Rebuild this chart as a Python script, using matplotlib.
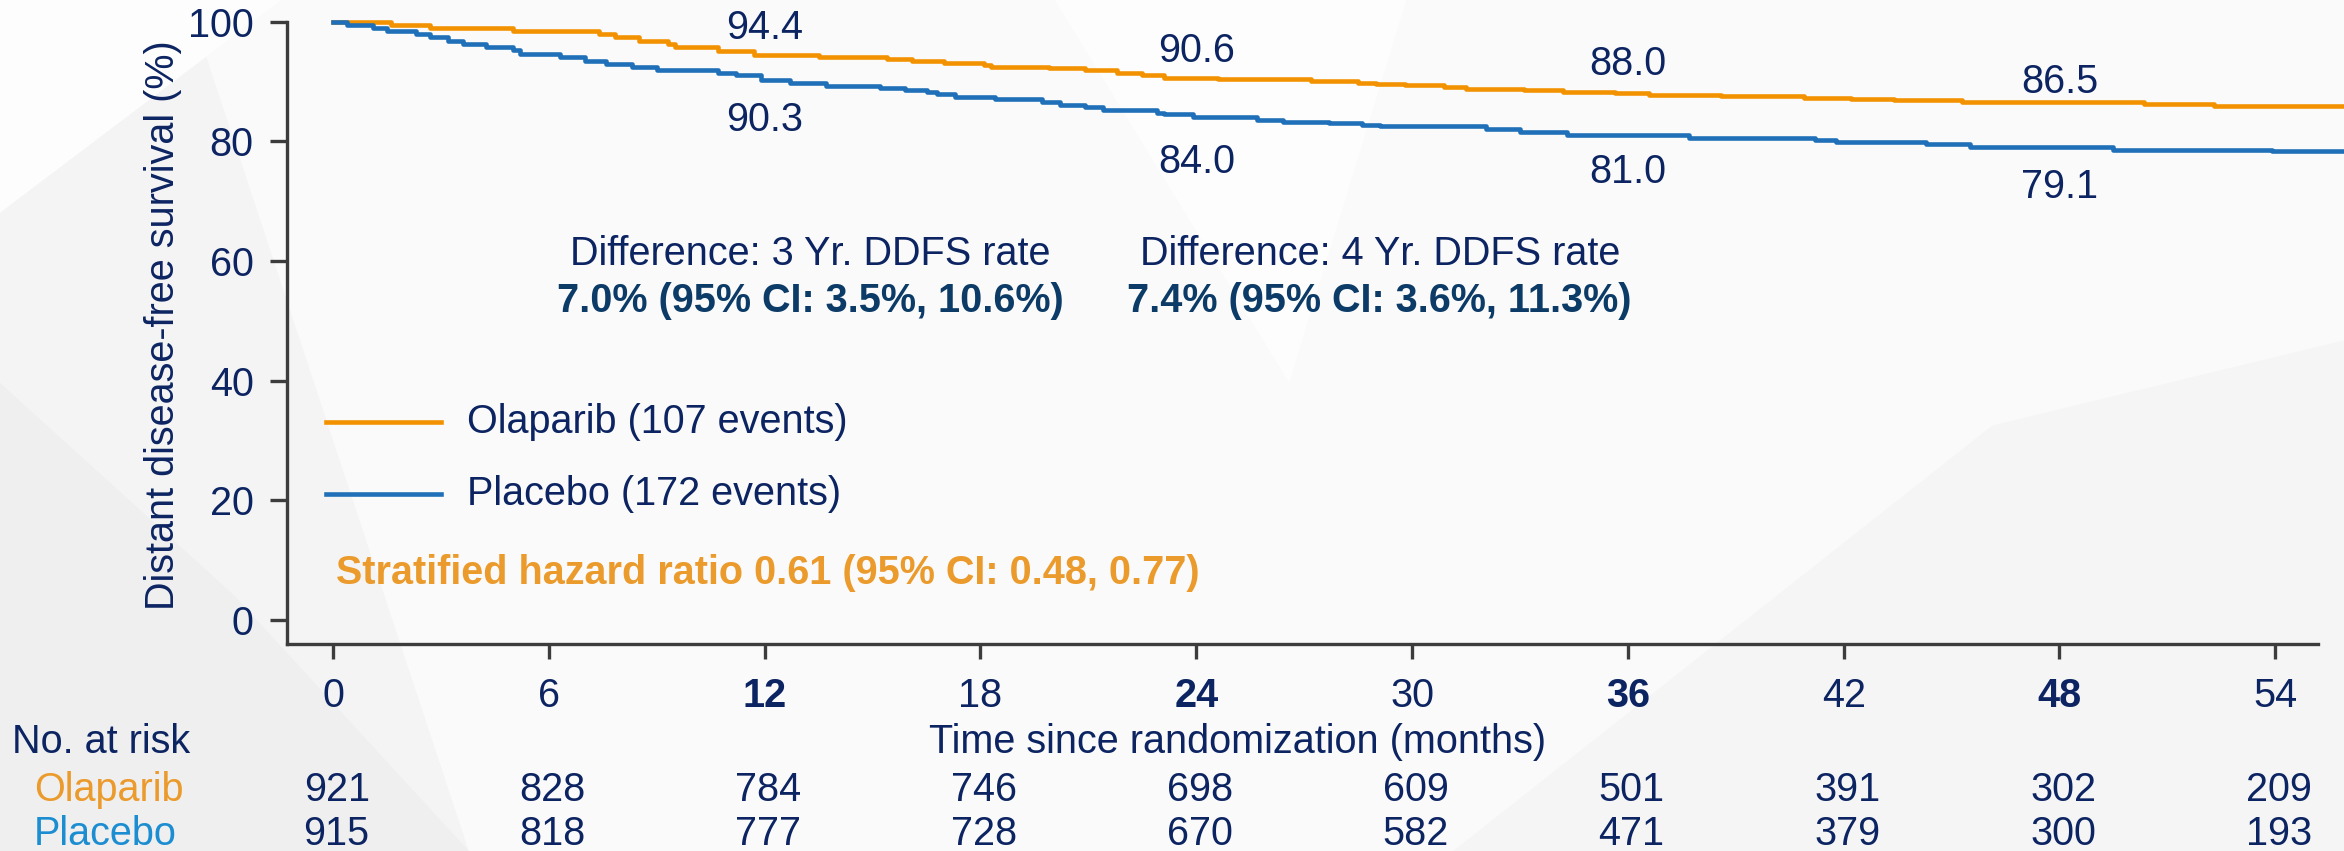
import matplotlib
matplotlib.use("Agg")
import matplotlib.pyplot as plt
from matplotlib.patches import Polygon
from matplotlib.transforms import blended_transform_factory

plt.rcParams["font.family"] = ["Liberation Sans", "DejaVu Sans"]

# Kaplan-Meier step knots (months, % free of distant disease)
olaparibTimes = [0, 1.6, 2.7, 5.0, 7.4, 7.85, 8.5, 9.3, 9.5, 10.7, 11.7, 13.5, 15.4, 16.1,
                 17.0, 18.1, 18.3, 19.9, 20.9, 21.8, 22.5, 23.1, 24.6, 27.2, 28.5, 29.0,
                 29.8, 30.9, 31.5, 33.1, 34.2, 35.65, 36.6, 38.6, 40.9, 42.2, 43.4, 45.3,
                 50.35, 52.3, 55.9]
olaparibSurv = [100, 99.5, 98.9, 98.5, 97.9, 97.4, 96.8, 96.3, 95.7, 95.1, 94.4, 94.1, 93.8,
                93.5, 93.1, 92.7, 92.5, 92.2, 91.9, 91.5, 91.1, 90.6, 90.4, 90.1, 89.8, 89.6,
                89.4, 89.1, 88.8, 88.6, 88.3, 88.0, 87.8, 87.6, 87.3, 87.1, 86.9, 86.5,
                86.2, 85.9, 85.9]

placeboTimes = [0, 0.4, 1.1, 1.5, 2.3, 2.7, 3.2, 3.6, 4.25, 5.0, 5.2, 6.3, 7.0, 7.6, 8.3,
                9.0, 10.7, 11.2, 11.9, 12.7, 13.7, 15.2, 15.9, 16.5, 16.8, 17.3, 18.4, 19.7,
                20.2, 20.9, 21.4, 22.9, 23.1, 23.9, 25.7, 26.4, 27.7, 28.6, 29.1, 32.05,
                33.0, 34.3, 37.7, 41.2, 41.8, 44.3, 45.5, 49.5, 53.9, 55.9]
placeboSurv = [100, 99.5, 98.9, 98.5, 97.9, 97.4, 96.8, 96.3, 95.7, 95.2, 94.6, 94.05, 93.5,
               92.9, 92.4, 92.0, 91.5, 91.1, 90.3, 89.7, 89.3, 88.9, 88.5, 88.2, 87.9, 87.45,
               87.0, 86.5, 86.1, 85.7, 85.2, 84.8, 84.5, 84.0, 83.6, 83.3, 83.0, 82.7, 82.5,
               82.0, 81.6, 81.0, 80.6, 80.2, 79.9, 79.5, 79.1, 78.6, 78.3, 78.3]

landmarkMonths = [12, 24, 36, 48]
olaparibLandmark = [94.4, 90.6, 88.0, 86.5]
placeboLandmark = [90.3, 84.0, 81.0, 79.1]

riskMonths = [0, 6, 12, 18, 24, 30, 36, 42, 48, 54]
olaparibAtRisk = [921, 828, 784, 746, 698, 609, 501, 391, 302, 209]
placeboAtRisk = [915, 818, 777, 728, 670, 582, 471, 379, 300, 193]

olaparibEvents = 107
placeboEvents = 172

NAVY = "#0c2461"
DARK_TEAL = "#0b3b66"
ORANGE = "#f39200"
BLUE = "#1f70b8"
HR_ORANGE = "#eb9a2c"
RISK_BLUE = "#1b8dd0"
AXIS_GREY = "#3c3c3c"
FS = 28.5

fig = plt.figure(figsize=(23.44, 8.51), dpi=100, facecolor="#f4f4f5")

# faint geometric backdrop
shapes = [
    ([(0.08, 1.0), (1.0, 1.0), (1.0, 0.35), (0.75, 0.0), (0.2, 0.0)], "#fafafa"),
    ([(0.0, 1.0), (0.12, 1.0), (0.0, 0.75)], "#fdfdfd"),
    ([(0.0, 0.0), (0.0, 0.55), (0.1, 0.3), (0.2, 0.0)], "#efeff0"),
    ([(0.62, 0.0), (0.85, 0.5), (1.0, 0.6), (1.0, 0.0)], "#f5f5f6"),
    ([(0.45, 1.0), (0.60, 1.0), (0.55, 0.55)], "#fdfdfd"),
]
for pts, col in shapes:
    fig.patches.append(Polygon(pts, closed=True, transform=fig.transFigure,
                               facecolor=col, edgecolor="none", zorder=-10))

ax = fig.add_axes([287 / 2344, (851 - 644) / 851, 1 - 287 / 2344, (644 - 21.7) / 851])
ax.set_facecolor("none")
ax.set_xlim(-1.28, 55.91)
ax.set_ylim(-4.06, 100)

ax.step(olaparibTimes, olaparibSurv, where="post", color=ORANGE, lw=3.3,
        clip_on=False, zorder=3)
ax.step(placeboTimes, placeboSurv, where="post", color=BLUE, lw=3.3,
        clip_on=False, zorder=3)

# landmark rates above / below the curves
olaparibLabelY = [99.0, 95.1, 92.9, 89.9]
placeboLabelY = [83.6, 76.6, 74.8, 72.3]
for m, v, y in zip(landmarkMonths, olaparibLandmark, olaparibLabelY):
    ax.text(m, y, "{:.1f}".format(v), ha="center", va="center", fontsize=FS, color=NAVY)
for m, v, y in zip(landmarkMonths, placeboLandmark, placeboLabelY):
    ax.text(m, y, "{:.1f}".format(v), ha="center", va="center", fontsize=FS, color=NAVY)

# differences in DDFS rate
ax.text(13.26, 61.2, "Difference: 3 Yr. DDFS rate", ha="center", va="center",
        fontsize=FS, color=NAVY)
ax.text(13.26, 53.3, "7.0% (95% CI: 3.5%, 10.6%)", ha="center", va="center",
        fontsize=FS, color=DARK_TEAL, fontweight="bold")
ax.text(29.1, 61.2, "Difference: 4 Yr. DDFS rate", ha="center", va="center",
        fontsize=FS, color=NAVY)
ax.text(29.1, 53.3, "7.4% (95% CI: 3.6%, 11.3%)", ha="center", va="center",
        fontsize=FS, color=DARK_TEAL, fontweight="bold")

# legend drawn by hand
ax.plot([-0.2, 3.0], [33.0, 33.0], color=ORANGE, lw=3.3)
ax.plot([-0.2, 3.0], [21.0, 21.0], color=BLUE, lw=3.3)
ax.text(3.72, 33.0, "Olaparib ({} events)".format(olaparibEvents), va="center",
        fontsize=FS, color=NAVY)
ax.text(3.72, 21.0, "Placebo ({} events)".format(placeboEvents), va="center",
        fontsize=FS, color=NAVY)

ax.text(0.08, 7.8, "Stratified hazard ratio 0.61 (95% CI: 0.48, 0.77)", va="center",
        fontsize=FS, color=HR_ORANGE, fontweight="bold")

# axes styling
for side in ["top", "right"]:
    ax.spines[side].set_visible(False)
for side in ["left", "bottom"]:
    ax.spines[side].set_color(AXIS_GREY)
    ax.spines[side].set_linewidth(2.4)
ax.spines["bottom"].set_bounds(-1.28, 55.2)

ax.set_yticks(range(0, 101, 20))
ax.set_xticks(riskMonths)
ax.tick_params(axis="y", length=12, width=2.4, color=AXIS_GREY, pad=12,
               labelsize=FS, labelcolor=NAVY)
ax.tick_params(axis="x", length=11, width=2.4, color=AXIS_GREY, pad=13,
               labelsize=FS, labelcolor=NAVY)
for lab in ax.get_xticklabels():
    if int(lab.get_text()) % 12 == 0 and lab.get_text() != "0":
        lab.set_fontweight("bold")

fig.text(163 / 2344, 1 - 325 / 851, "Distant disease-free survival (%)", rotation=90,
         ha="center", va="center", fontsize=FS, color=NAVY)
fig.text(1238 / 2344, 1 - 742 / 851, "Time since randomization (months)",
         ha="center", va="center", fontsize=FS, color=NAVY)

# number-at-risk table
fig.text(12 / 2344, 1 - 742 / 851, "No. at risk", ha="left", va="center",
         fontsize=FS, color=NAVY)
fig.text(34 / 2344, 1 - 790 / 851, "Olaparib", ha="left", va="center",
         fontsize=FS, color=HR_ORANGE)
fig.text(34 / 2344, 1 - 834 / 851, "Placebo", ha="left", va="center",
         fontsize=FS, color=RISK_BLUE)
rowTrans = blended_transform_factory(ax.transData, fig.transFigure)
for m, a, b in zip(riskMonths, olaparibAtRisk, placeboAtRisk):
    ax.text(m + 0.1, 1 - 790 / 851, str(a), transform=rowTrans, ha="center",
            va="center", fontsize=FS, color=NAVY, clip_on=False)
    ax.text(m + 0.1, 1 - 834 / 851, str(b), transform=rowTrans, ha="center",
            va="center", fontsize=FS, color=NAVY, clip_on=False)

fig.savefig("out.png", dpi=100, facecolor=fig.get_facecolor())
